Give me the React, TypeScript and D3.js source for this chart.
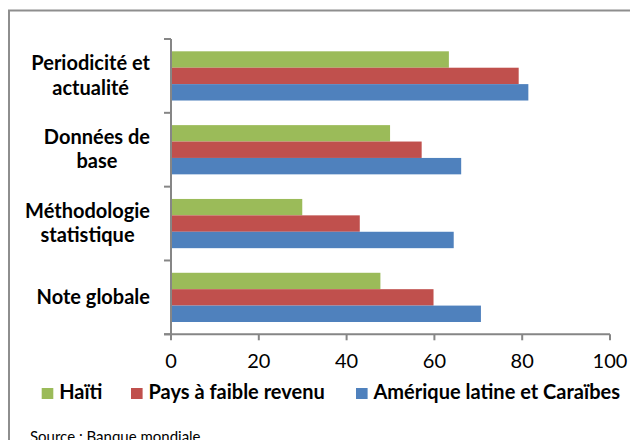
import React from 'react';
import * as d3 from 'd3';

const categories = ['Periodicité et actualité', 'Données de base', 'Méthodologie statistique', 'Note globale'];
const categoryLines = [['Periodicité et', 'actualité'], ['Données de', 'base'], ['Méthodologie', 'statistique'], ['Note globale']];
const seriesNames = ['Haïti', 'Pays à faible revenu', 'Amérique latine et Caraïbes'];
const haiti = [63.3, 49.9, 29.9, 47.7];
const lowIncome = [79.2, 57.1, 43.0, 59.8];
const latinAmerica = [81.4, 66.1, 64.4, 70.6];
const xTicks = [0, 20, 40, 60, 80, 100];
const colors = ['#9BBB59', '#C0504D', '#4F81BD'];
const sourceText = 'Source : Banque mondiale';

const font = 'Lato, "Open Sans", sans-serif';
const axisColor = '#868686';

// width of a text line, so that each label block can be right aligned with centered lines
let ctx: CanvasRenderingContext2D | null = null;
function textWidth(s: string, size: number, weight = 'bold') {
    if (!ctx) ctx = document.createElement('canvas').getContext('2d');
    if (!ctx) return s.length * size * 0.5;
    ctx.font = `${weight} ${size}px Lato`;
    return ctx.measureText(s).width;
}

export default function App() {
    const series = [haiti, lowIncome, latinAmerica];

    const x = d3.scaleLinear().domain([0, 100]).range([171, 610]);
    const y = d3.scaleBand().domain(categories).range([39, 334.3]).padding(0);
    const inner = d3.scaleBand()
        .domain(seriesNames)
        .range([0, y.bandwidth()])
        .paddingInner(0)
        .paddingOuter(0.75);

    const step = y.step();
    const top = y.range()[0];
    const bottom = y.range()[1];
    const labelRight = 150;

    const legendX = [41.7, 131, 356];
    const legendY = 399;

    return (
        <svg width={630} height={440} style={{ position: 'absolute', left: 0, top: 0 }}>
            <rect x={0} y={0} width={630} height={440} fill="#fff" />
            <rect x={9} y={10.5} width={700} height={500} fill="none" stroke="#8e8e8e" strokeWidth={2} />

            {/* bars */}
            {categories.map((c, i) => (
                <g key={c}>
                    {series.map((s, j) => (
                        <rect
                            key={seriesNames[j]}
                            x={x(0)}
                            y={(y(c) as number) + (inner(seriesNames[j]) as number)}
                            width={x(s[i]) - x(0)}
                            height={inner.bandwidth()}
                            fill={colors[j]}
                        />
                    ))}
                </g>
            ))}

            {/* y axis */}
            <line x1={x(0)} x2={x(0)} y1={top} y2={bottom} stroke={axisColor} strokeWidth={2} />
            {d3.range(categories.length + 1).map(i => (
                <line key={i} x1={164} x2={x(0)} y1={top + i * step} y2={top + i * step}
                    stroke={axisColor} strokeWidth={2} />
            ))}
            {categories.map((c, i) => {
                const lines = categoryLines[i];
                const cy = (y(c) as number) + step / 2;
                const w = d3.max(lines, l => textWidth(l, 20)) as number;
                const cx = labelRight - w / 2;
                return (
                    <text key={c} textAnchor="middle" fontFamily={font} fontWeight="bold" fontSize={20} fill="#000">
                        {lines.map((l, k) => (
                            <tspan key={k} x={cx} y={cy + 6.5 + (k - (lines.length - 1) / 2) * 24.5}>{l}</tspan>
                        ))}
                    </text>
                );
            })}

            {/* x axis */}
            <line x1={164} x2={x(100)} y1={bottom} y2={bottom} stroke={axisColor} strokeWidth={2} />
            {xTicks.map(t => (
                <g key={t}>
                    <line x1={x(t)} x2={x(t)} y1={bottom} y2={bottom + 6} stroke={axisColor} strokeWidth={2} />
                    <text x={x(t)} y={368} textAnchor="middle" fontFamily={font} fontSize={20} fill="#000">{t}</text>
                </g>
            ))}

            {/* legend */}
            {seriesNames.map((n, j) => (
                <g key={n}>
                    <rect x={legendX[j]} y={388} width={11.6} height={11} fill={colors[j]} />
                    <text x={legendX[j] + 17.5} y={legendY} fontFamily={font} fontWeight="bold" fontSize={20} fill="#000">{n}</text>
                </g>
            ))}

            <text x={30} y={442} fontFamily={font} fontSize={15} fill="#000">{sourceText}</text>
        </svg>
    );
}
